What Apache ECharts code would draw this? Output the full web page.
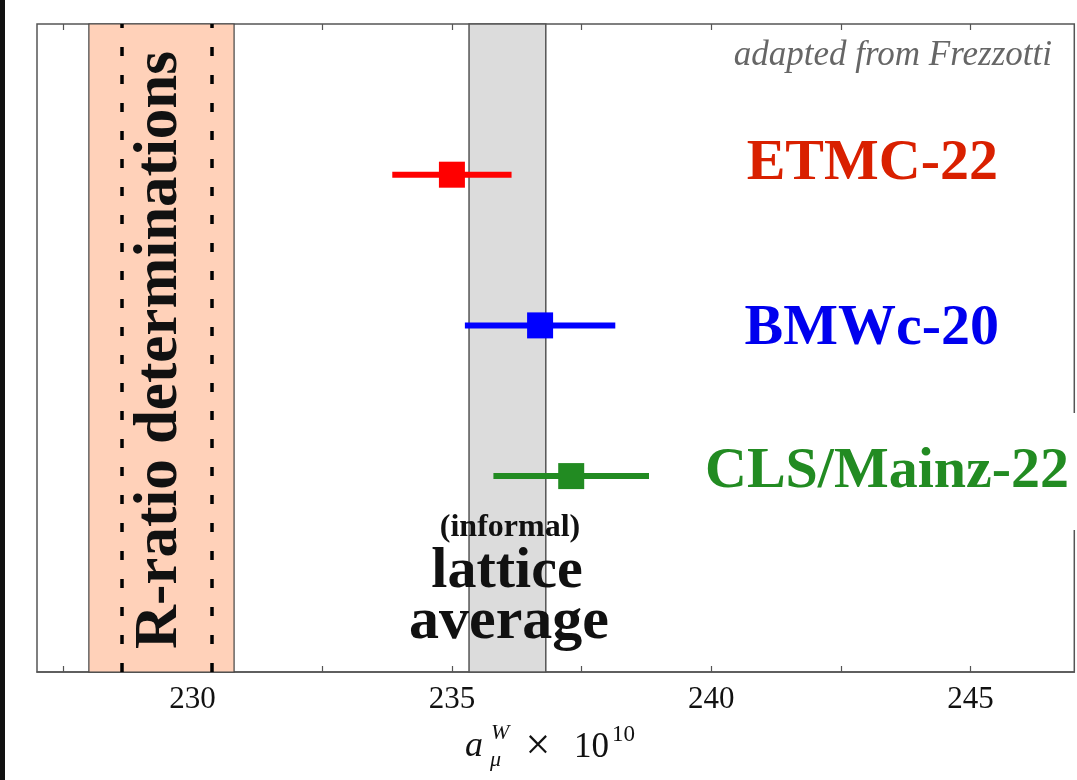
<!DOCTYPE html>
<html><head><meta charset="utf-8">
<script src="https://cdn.jsdelivr.net/npm/echarts@6/dist/echarts.min.js"></script>
<style>html,body{margin:0;padding:0;background:#fff}#c{width:1077px;height:780px}</style>
</head><body><div id="c"></div>
<script>
const labels = ['ETMC-22', 'BMWc-20', 'CLS/Mainz-22'];
const centralValues = [235.0, 236.7, 237.3];
const errLow = [233.85, 235.25, 235.8];
const errHigh = [236.15, 238.15, 238.8];
const rowPos = [3, 2, 1];
const markerColors = ['#ff0000', '#0000ff', '#228b22'];
const labelColors = ['#d92000', '#0000ee', '#228b22'];
const majorTicks = [230, 235, 240, 245];
const minorTicks = [227.5, 230, 232.5, 235, 237.5, 240, 242.5, 245];
const rRatioBand = [228.0, 230.8];
const rRatioLines = [228.63, 230.37];
const latticeBand = [235.33, 236.81];
const xRange = [227, 247];
const yRange = [-0.3, 4];

const chart = echarts.init(document.getElementById('c'), null, {renderer: 'canvas'});
const serif = '"Liberation Serif", "DejaVu Serif", serif';

const errorSeries = rowPos.map((y, i) => ({
  type: 'line',
  data: [[errLow[i], y], [errHigh[i], y]],
  symbol: 'none',
  silent: true,
  z: 3,
  lineStyle: {color: markerColors[i], width: 6, cap: 'butt', opacity: 1}
}));

const labelPos = [
  {x: 998, y: 164, align: 'right'},
  {x: 999, y: 329, align: 'right'},
  {x: 705, y: 472, align: 'left'}
];

const option = {
  animation: false,
  backgroundColor: '#fff',
  grid: {left: 37, right: 2.7, top: 24, bottom: 108, show: true, borderColor: '#555', borderWidth: 1.5, backgroundColor: 'transparent'},
  xAxis: [{
    type: 'value', min: xRange[0], max: xRange[1], position: 'bottom',
    splitLine: {show: false},
    axisLine: {show: true, onZero: false, lineStyle: {color: '#555', width: 1.5}},
    axisTick: {show: true, inside: true, length: 6, customValues: minorTicks, lineStyle: {color: '#555', width: 1.2}},
    axisLabel: {show: true, customValues: majorTicks, fontFamily: serif, fontSize: 31, color: '#111', margin: 12}
  }, {
    type: 'value', min: xRange[0], max: xRange[1], position: 'top',
    splitLine: {show: false},
    axisLine: {show: false, onZero: false},
    axisTick: {show: true, inside: true, length: 6, customValues: minorTicks, lineStyle: {color: '#555', width: 1.2}},
    axisLabel: {show: false}
  }],
  yAxis: {type: 'value', min: yRange[0], max: yRange[1], show: false, splitLine: {show: false}},
  series: [{
    type: 'line', data: [], z: 1, silent: true,
    markArea: {
      silent: true,
      label: {show: false},
      data: [
        [{xAxis: rRatioBand[0], itemStyle: {color: '#ffd1b9', borderColor: '#444', borderWidth: 1.2, opacity: 1}}, {xAxis: rRatioBand[1]}],
        [{xAxis: latticeBand[0], itemStyle: {color: '#dcdcdc', borderColor: '#555', borderWidth: 1.5, opacity: 1}}, {xAxis: latticeBand[1]}]
      ]
    },
    markLine: {
      silent: true, symbol: 'none', label: {show: false},
      lineStyle: {color: '#000', width: 3.5, type: [9, 19], opacity: 1},
      data: rRatioLines.map(v => ({xAxis: v}))
    }
  }].concat(errorSeries).concat([{
    type: 'scatter', symbol: 'rect', symbolSize: 26, z: 4, silent: true,
    itemStyle: {opacity: 1},
    data: rowPos.map((y, i) => ({value: [centralValues[i], y], itemStyle: {color: markerColors[i], opacity: 1}}))
  }]),
  graphic: [
    {type: 'rect', shape: {x: 0, y: 0, width: 5, height: 780}, style: {fill: '#111'}, z: 100},
    {type: 'rect', shape: {x: 700, y: 413, width: 377, height: 117}, style: {fill: '#fff'}, z: 100},
    {type: 'text', x: 1052, y: 56, z: 110, style: {text: 'adapted from Frezzotti', align: 'right', verticalAlign: 'middle', font: 'italic 35px ' + serif, fill: '#666'}},
    ...labels.map((t, i) => ({type: 'text', x: labelPos[i].x, y: labelPos[i].y, z: 110,
      style: {text: t, align: labelPos[i].align, verticalAlign: 'middle', font: 'bold 58px ' + serif, fill: labelColors[i]}})),
    {type: 'text', x: 160, y: 350, rotation: Math.PI / 2, z: 110, style: {text: 'R-ratio determinations', align: 'center', verticalAlign: 'middle', font: 'bold 61px ' + serif, fill: '#111'}},
    {type: 'text', x: 510, y: 528, z: 110, style: {text: '(informal)', align: 'center', verticalAlign: 'middle', font: 'bold 32px ' + serif, fill: '#111'}},
    {type: 'text', x: 507, y: 572, z: 110, style: {text: 'lattice', align: 'center', verticalAlign: 'middle', font: 'bold 58px ' + serif, fill: '#111'}},
    {type: 'text', x: 509, y: 622, z: 110, style: {text: 'average', align: 'center', verticalAlign: 'middle', font: 'bold 60px ' + serif, fill: '#111'}},
    {type: 'text', x: 465, y: 747, z: 110, style: {text: 'a', align: 'left', verticalAlign: 'middle', font: 'italic 36px ' + serif, fill: '#111'}},
    {type: 'text', x: 491, y: 733, z: 110, style: {text: 'W', align: 'left', verticalAlign: 'middle', font: 'italic 22px ' + serif, fill: '#111'}},
    {type: 'text', x: 490, y: 760, z: 110, style: {text: 'μ', align: 'left', verticalAlign: 'middle', font: 'italic 22px ' + serif, fill: '#111'}},
    {type: 'text', x: 538, y: 747, z: 110, style: {text: '×', align: 'center', verticalAlign: 'middle', font: '44px ' + serif, fill: '#111'}},
    {type: 'text', x: 574, y: 748, z: 110, style: {text: '10', align: 'left', verticalAlign: 'middle', font: '35px ' + serif, fill: '#111'}},
    {type: 'text', x: 612, y: 735, z: 110, style: {text: '10', align: 'left', verticalAlign: 'middle', font: '23px ' + serif, fill: '#111'}}
  ]
};
chart.setOption(option);
</script>
</body></html>
